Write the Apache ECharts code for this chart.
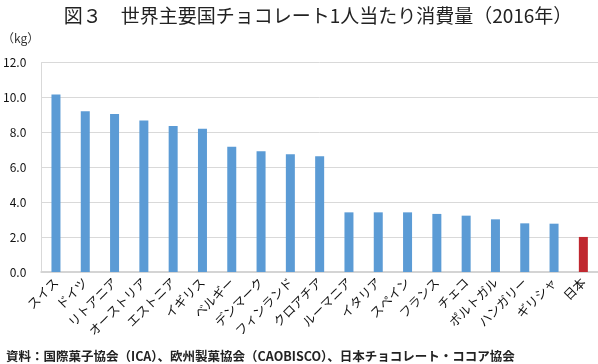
<!DOCTYPE html>
<html><head><meta charset="utf-8">
<script src="https://cdn.jsdelivr.net/npm/echarts@6/dist/echarts.min.js"></script>
<style>html,body{margin:0;padding:0;background:#fff;}#c{width:598px;height:364px;}</style>
</head><body><div id="c"></div>
<script>
const categories = ["スイス","ドイツ","リトアニア","オーストリア","エストニア","イギリス","ベルギー","デンマーク","フィンランド","クロアチア","ルーマニア","イタリア","スペイン","フランス","チェコ","ポルトガル","ハンガリー","ギリシャ","日本"];
const values = [10.17,9.21,9.06,8.68,8.37,8.22,7.18,6.92,6.75,6.63,3.42,3.42,3.42,3.33,3.23,3.02,2.79,2.77,2.01];
const highlight = "日本";
const titleText = "図３　世界主要国チョコレート1人当たり消費量（2016年）";
const unitText = "（kg）";
const sourceText = "資料：国際菓子協会（ICA）、欧州製菓協会（CAOBISCO）、日本チョコレート・ココア協会";

const font = "'Noto Sans CJK JP', 'Noto Sans', sans-serif";
const chart = echarts.init(document.getElementById('c'));
chart.setOption({
  animation: false,
  textStyle: {fontFamily: font},
  title: [
    {text: titleText, left: 313, textAlign: 'center', top: 1, textStyle: {fontFamily: font, fontSize: 19, fontWeight: 'normal', color: '#222'}},
    {text: unitText, left: -3, top: 27, textStyle: {fontFamily: font, fontSize: 12, fontWeight: 'normal', color: '#333'}},
    {text: sourceText, left: 1, top: 345, textStyle: {fontFamily: font, fontSize: 12.5, fontWeight: 'bold', color: '#222'}}
  ],
  grid: {left: 40, right: 0, top: 62.7, bottom: 92, containLabel: false},
  xAxis: {
    type: 'category', data: categories,
    axisLine: {lineStyle: {color: '#d4d4d4', width: 2}},
    axisTick: {show: false},
    axisLabel: {rotate: 45, interval: 0, fontSize: 12.5, color: '#111', fontFamily: font, margin: 8}
  },
  yAxis: {
    type: 'value', min: 0, max: 12, interval: 2,
    axisLine: {show: true, lineStyle: {color: '#d9d9d9', width: 1}},
    axisTick: {show: false},
    splitLine: {lineStyle: {color: '#d9d9d9', width: 1}},
    axisLabel: {formatter: v => v.toFixed(1), fontSize: 12, color: '#111', fontFamily: font, margin: 15}
  },
  series: [{
    type: 'bar', barWidth: 9,
    data: categories.map((c, i) => ({value: values[i], itemStyle: {color: c === highlight ? '#C0282F' : '#5B9BD5'}}))
  }]
});
</script></body></html>
